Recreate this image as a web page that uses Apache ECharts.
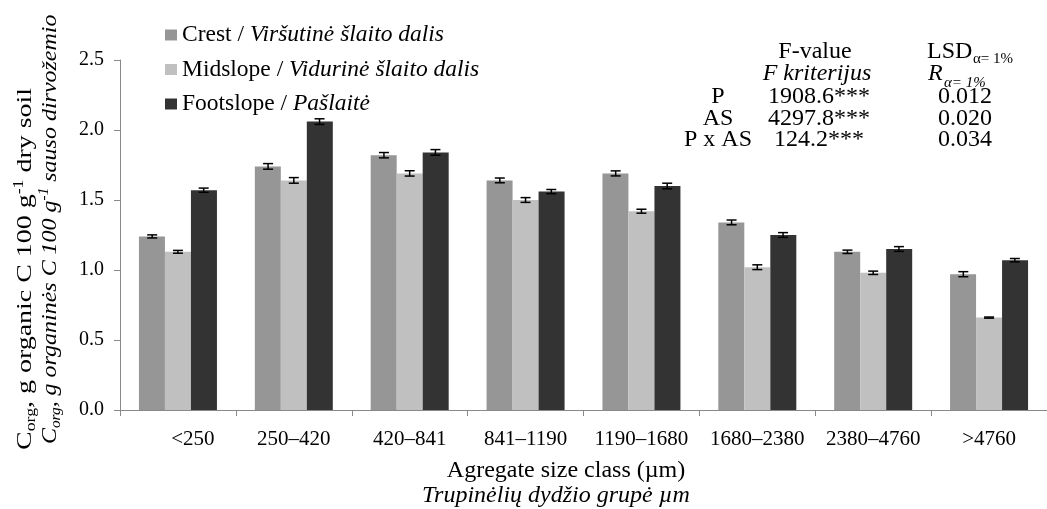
<!DOCTYPE html>
<html>
<head>
<meta charset="utf-8">
<script src="https://cdn.jsdelivr.net/npm/echarts@6/dist/echarts.min.js"></script>
<style>
html,body{margin:0;padding:0;background:#fff;}
#chart{width:1047px;height:509px;}
</style>
</head>
<body>
<div id="chart"></div>
<script>
var categories = ['<250', '250–420', '420–841', '841–1190', '1190–1680', '1680–2380', '2380–4760', '>4760'];
var crest = [1.24, 1.74, 1.82, 1.64, 1.69, 1.34, 1.13, 0.97];
var midslope = [1.13, 1.64, 1.69, 1.50, 1.42, 1.02, 0.98, 0.66];
var footslope = [1.57, 2.06, 1.84, 1.56, 1.60, 1.25, 1.15, 1.07];
var crestErr = [0.011, 0.02, 0.019, 0.017, 0.018, 0.017, 0.012, 0.018];
var midslopeErr = [0.010, 0.02, 0.019, 0.017, 0.014, 0.017, 0.012, 0.004];
var footslopeErr = [0.015, 0.02, 0.02, 0.015, 0.02, 0.017, 0.017, 0.012];
var yTicks = [0, 0.5, 1.0, 1.5, 2.0, 2.5];
var seriesNames = ['Crest', 'Midslope', 'Footslope'];
var seriesNamesLt = ['Viršutinė šlaito dalis', 'Vidurinė šlaito dalis', 'Pašlaitė'];
var statRows = ['P', 'AS', 'P x AS'];
var fValues = ['1908.6***', '4297.8***', '124.2***'];
var lsdValues = ['0.012', '0.020', '0.034'];

var FONT = '"Liberation Serif", "Times New Roman", serif';
var colors = ['#969696', '#c0c0c0', '#333333'];
var values = [crest, midslope, footslope];
var errs = [crestErr, midslopeErr, footslopeErr];

var chart = echarts.init(document.getElementById('chart'), null, {renderer: 'canvas'});

function errSeries(k) {
  return {
    type: 'custom',
    name: seriesNames[k] + ' err',
    z: 10,
    silent: true,
    data: categories.map(function (c, i) { return [i, values[k][i], errs[k][i]]; }),
    encode: {x: 0, y: 1},
    renderItem: function (params, api) {
      var i = api.value(0), v = api.value(1), e = api.value(2);
      var band = api.size([1, 0])[0];
      var bw = band * 26 / 117;
      var off = (k - 1) * bw;
      var top = api.coord([i, v + e]);
      var bot = api.coord([i, v - e]);
      var x = top[0] + off;
      var cap = 5;
      var st = {stroke: '#000', lineWidth: 1.5};
      return {
        type: 'group',
        children: [
          {type: 'line', shape: {x1: x, y1: top[1], x2: x, y2: bot[1]}, style: st},
          {type: 'line', shape: {x1: x - cap, y1: top[1], x2: x + cap, y2: top[1]}, style: st},
          {type: 'line', shape: {x1: x - cap, y1: bot[1], x2: x + cap, y2: bot[1]}, style: st}
        ]
      };
    }
  };
}

var series = [];
for (var k = 0; k < 3; k++) {
  series.push({
    type: 'bar',
    name: seriesNames[k],
    data: values[k],
    barWidth: 26,
    barGap: '0%',
    itemStyle: {color: colors[k]},
    emphasis: {disabled: true}
  });
}
for (var k2 = 0; k2 < 3; k2++) series.push(errSeries(k2));

function richTitle(italic) {
  var fs = italic ? 'italic' : 'normal';
  return {
    n: {fontFamily: FONT, fontSize: 22, fontStyle: fs, fill: '#000', lineHeight: 26, verticalAlign: 'middle'},
    sub: {fontFamily: FONT, fontSize: 14, fontStyle: fs, fill: '#000', lineHeight: 26, verticalAlign: 'bottom'},
    sup: {fontFamily: FONT, fontSize: 14, fontStyle: fs, fill: '#000', lineHeight: 26, verticalAlign: 'top'}
  };
}

var graphics = [];
// y axis titles (rotated)
graphics.push({
  type: 'text', x: 25, y: 450, rotation: Math.PI / 2, scaleX: 1.27,
  style: {
    text: '{n|C}{sub|org}{n|, g organic C 100 g}{sup|-1}{n| dry soil}',
    align: 'left', verticalAlign: 'middle',
    rich: richTitle(false)
  }
});
graphics.push({
  type: 'text', x: 50, y: 444, rotation: Math.PI / 2, scaleX: 1.09,
  style: {
    text: '{n|C}{sub|org}{n|, g organinės C 100 g}{sup|-1}{n| sauso dirvožemio}',
    align: 'left', verticalAlign: 'middle',
    rich: richTitle(true)
  }
});
// x axis titles
graphics.push({
  type: 'text', x: 566, y: 471,
  style: {text: 'Agregate size class (µm)', align: 'center', verticalAlign: 'middle',
    font: '24px ' + FONT, fill: '#000'}
});
graphics.push({
  type: 'text', x: 556, y: 496,
  style: {text: 'Trupinėlių dydžio grupė µm', align: 'center', verticalAlign: 'middle',
    font: 'italic 24px ' + FONT, fill: '#000'}
});
// stats table
graphics.push({type: 'text', x: 815, y: 52,
  style: {text: 'F-value', align: 'center', verticalAlign: 'middle', font: '24px ' + FONT, fill: '#000'}});
graphics.push({type: 'text', x: 817, y: 74,
  style: {text: 'F kriterijus', align: 'center', verticalAlign: 'middle', font: 'italic 24px ' + FONT, fill: '#000'}});
graphics.push({type: 'text', x: 927, y: 52,
  style: {text: 'LSD', align: 'left', verticalAlign: 'middle', font: '24px ' + FONT, fill: '#000'}});
graphics.push({type: 'text', x: 973, y: 59,
  style: {text: 'α= 1%', align: 'left', verticalAlign: 'middle', font: '15px ' + FONT, fill: '#000'}});
graphics.push({type: 'text', x: 928, y: 74,
  style: {text: 'R', align: 'left', verticalAlign: 'middle', font: 'italic 24px ' + FONT, fill: '#000'}});
graphics.push({type: 'text', x: 944, y: 83,
  style: {text: 'α= 1%', align: 'left', verticalAlign: 'middle', font: 'italic 15px ' + FONT, fill: '#000'}});
for (var r = 0; r < statRows.length; r++) {
  var yy = 97 + r * 21.5;
  graphics.push({type: 'text', x: 718, y: yy,
    style: {text: statRows[r], align: 'center', verticalAlign: 'middle', font: '24px ' + FONT, fill: '#000'}});
  graphics.push({type: 'text', x: 819, y: yy,
    style: {text: fValues[r], align: 'center', verticalAlign: 'middle', font: '24px ' + FONT, fill: '#000'}});
  graphics.push({type: 'text', x: 965, y: yy,
    style: {text: lsdValues[r], align: 'center', verticalAlign: 'middle', font: '24px ' + FONT, fill: '#000'}});
}

var option = {
  animation: false,
  backgroundColor: '#fff',
  grid: {left: 120, top: 60, width: 936, height: 350, containLabel: false},
  legend: {
    orient: 'vertical',
    left: 160, top: 18,
    itemWidth: 12, itemHeight: 11, itemGap: 10.5,
    icon: 'rect',
    selectedMode: false,
    data: seriesNames,
    formatter: function (name) {
      var idx = seriesNames.indexOf(name);
      return '{n|' + name + ' / }{i|' + seriesNamesLt[idx] + '}';
    },
    textStyle: {
      fontFamily: FONT, fontSize: 24, color: '#000',
      rich: {
        n: {fontFamily: FONT, fontSize: 23.5, color: '#000', lineHeight: 24},
        i: {fontFamily: FONT, fontSize: 23.5, fontStyle: 'italic', color: '#000', lineHeight: 24}
      }
    }
  },
  xAxis: {
    type: 'category',
    data: categories,
    boundaryGap: true,
    axisLine: {lineStyle: {color: '#898989', width: 1}},
    axisTick: {show: true, length: 6, inside: false, lineStyle: {color: '#898989'}},
    axisLabel: {
      fontFamily: FONT, fontSize: 21, color: '#000', margin: 19, interval: 0,
      formatter: function (v, idx) { return idx === 0 ? '{p|' + v + '}' : v; },
      rich: {p: {fontFamily: FONT, fontSize: 21, color: '#000', padding: [0, 0, 0, 30]}}
    }
  },
  yAxis: {
    type: 'value',
    min: 0, max: 2.5, interval: 0.5,
    axisLine: {show: true, lineStyle: {color: '#898989', width: 1}},
    axisTick: {show: true, length: 6, lineStyle: {color: '#898989'}},
    splitLine: {show: false},
    axisLabel: {
      fontFamily: FONT, fontSize: 20, color: '#000', margin: 16,
      formatter: function (v) { return yTicks.indexOf(v) >= 0 ? v.toFixed(1) : ''; }
    }
  },
  series: series,
  graphic: graphics
};
chart.setOption(option);
</script>
</body>
</html>
